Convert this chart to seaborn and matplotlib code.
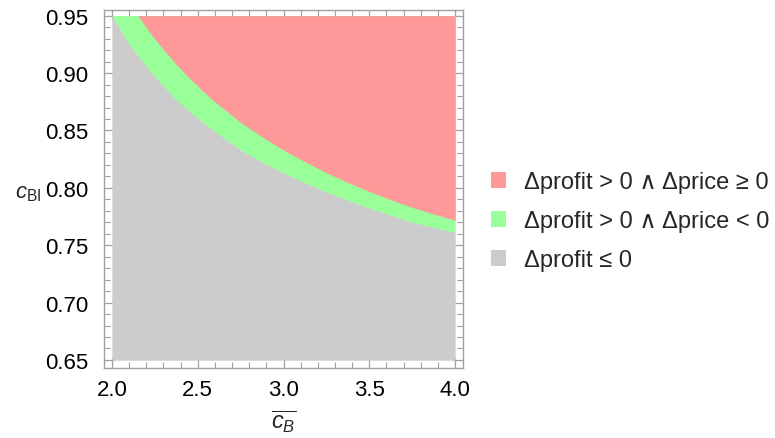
import numpy as np
import matplotlib
matplotlib.use("Agg")
import matplotlib.pyplot as plt
import seaborn as sns
from matplotlib.patches import Patch
from matplotlib.ticker import MultipleLocator

# Boundary between "Δprofit ≤ 0" (below) and the green band (above)
lower_x = [2.0, 2.1, 2.192, 2.257, 2.367, 2.507, 2.63, 2.758, 2.88, 3.003,
           3.13, 3.254, 3.38, 3.504, 3.63, 3.755, 3.88, 4.0]
lower_y = [0.950, 0.9255, 0.9075, 0.8960, 0.8780, 0.860, 0.8458, 0.8326, 0.8224, 0.8131,
           0.8043, 0.7963, 0.7892, 0.7826, 0.7761, 0.7701, 0.7655, 0.7614]
# Boundary between green band (below) and red region (above)
upper_x = [2.153, 2.2, 2.257, 2.367, 2.44, 2.507, 2.591, 2.758, 2.88, 3.003,
           3.13, 3.254, 3.38, 3.504, 3.63, 3.755, 3.88, 4.0]
upper_y = [0.950, 0.9398, 0.9285, 0.9090, 0.8975, 0.8878, 0.8762, 0.8564, 0.8442, 0.8329,
           0.8226, 0.8131, 0.8046, 0.7968, 0.7896, 0.7829, 0.7771, 0.772]

x_range = [2.0, 4.0]
y_range = [0.65, 0.95]
x_ticks = [2.0, 2.5, 3.0, 3.5, 4.0]
y_ticks = [0.65, 0.70, 0.75, 0.80, 0.85, 0.90, 0.95]

labels = ["\u0394profit > 0 \u2227 \u0394price \u2265 0",
          "\u0394profit > 0 \u2227 \u0394price < 0",
          "\u0394profit \u2264 0"]
colors = ["#FF9999", "#99FF99", "#CCCCCC"]

sns.set_style("ticks")
plt.rcParams["font.family"] = ["Liberation Sans", "DejaVu Sans"]
plt.rcParams["mathtext.fontset"] = "custom"
plt.rcParams["mathtext.rm"] = "Liberation Sans"
plt.rcParams["mathtext.it"] = "Liberation Sans:italic"

fig = plt.figure(figsize=(7.75, 4.39), dpi=100)
ax = fig.add_axes([104 / 775, 1 - 369 / 439, (463 - 104) / 775, (369 - 11) / 439])

# gray: below lower curve
ax.fill_between(lower_x, [y_range[0]] * len(lower_x), lower_y,
                facecolor=colors[2], edgecolor=colors[2], lw=0.3)
# green: between lower curve and top
ax.fill_between(lower_x, lower_y, [y_range[1]] * len(lower_x),
                facecolor=colors[1], edgecolor=colors[1], lw=0.3)
# red: above upper curve
ax.fill_between(upper_x, upper_y, [y_range[1]] * len(upper_x),
                facecolor=colors[0], edgecolor=colors[0], lw=0.3)

xpad = 0.047
ypad_lo, ypad_hi = 0.007, 0.005
ax.set_xlim(x_range[0] - xpad, x_range[1] + xpad)
ax.set_ylim(y_range[0] - ypad_lo, y_range[1] + ypad_hi)

ax.set_xticks(x_ticks)
ax.set_yticks(y_ticks)
ax.set_xticklabels([f"{v:.1f}" for v in x_ticks])
ax.set_yticklabels([f"{v:.2f}" for v in y_ticks])
ax.xaxis.set_minor_locator(MultipleLocator(0.1))
ax.yaxis.set_minor_locator(MultipleLocator(0.01))

frame_col = "#a0a0a0"
for s in ax.spines.values():
    s.set_visible(True)
    s.set_color(frame_col)
    s.set_linewidth(1.0)
ax.tick_params(which="both", direction="in", top=True, right=True,
               color=frame_col, labelsize=16, labelcolor="black")
ax.tick_params(which="major", length=7, width=0.9)
ax.tick_params(which="minor", length=4, width=0.8)
ax.tick_params(axis="x", which="major", pad=8)
ax.tick_params(axis="y", which="major", pad=11)

ax.set_xlabel(r"$\overline{c_B}$", fontsize=17, labelpad=6)
ax.set_ylabel(r"$c_{\mathrm{BI}}$", fontsize=16, rotation=0, ha="center", va="center")
ax.yaxis.set_label_coords(-0.21, 0.49)

handles = [Patch(facecolor=c, edgecolor="none") for c in colors]
fig.legend(handles, labels, loc="center left", bbox_to_anchor=(484 / 775, 1 - 222 / 439),
           frameon=False, fontsize=17, handlelength=0.65, handleheight=0.65,
           handletextpad=0.75, labelspacing=0.72, borderaxespad=0, borderpad=0.3)

fig.savefig("out.png", dpi=100)
